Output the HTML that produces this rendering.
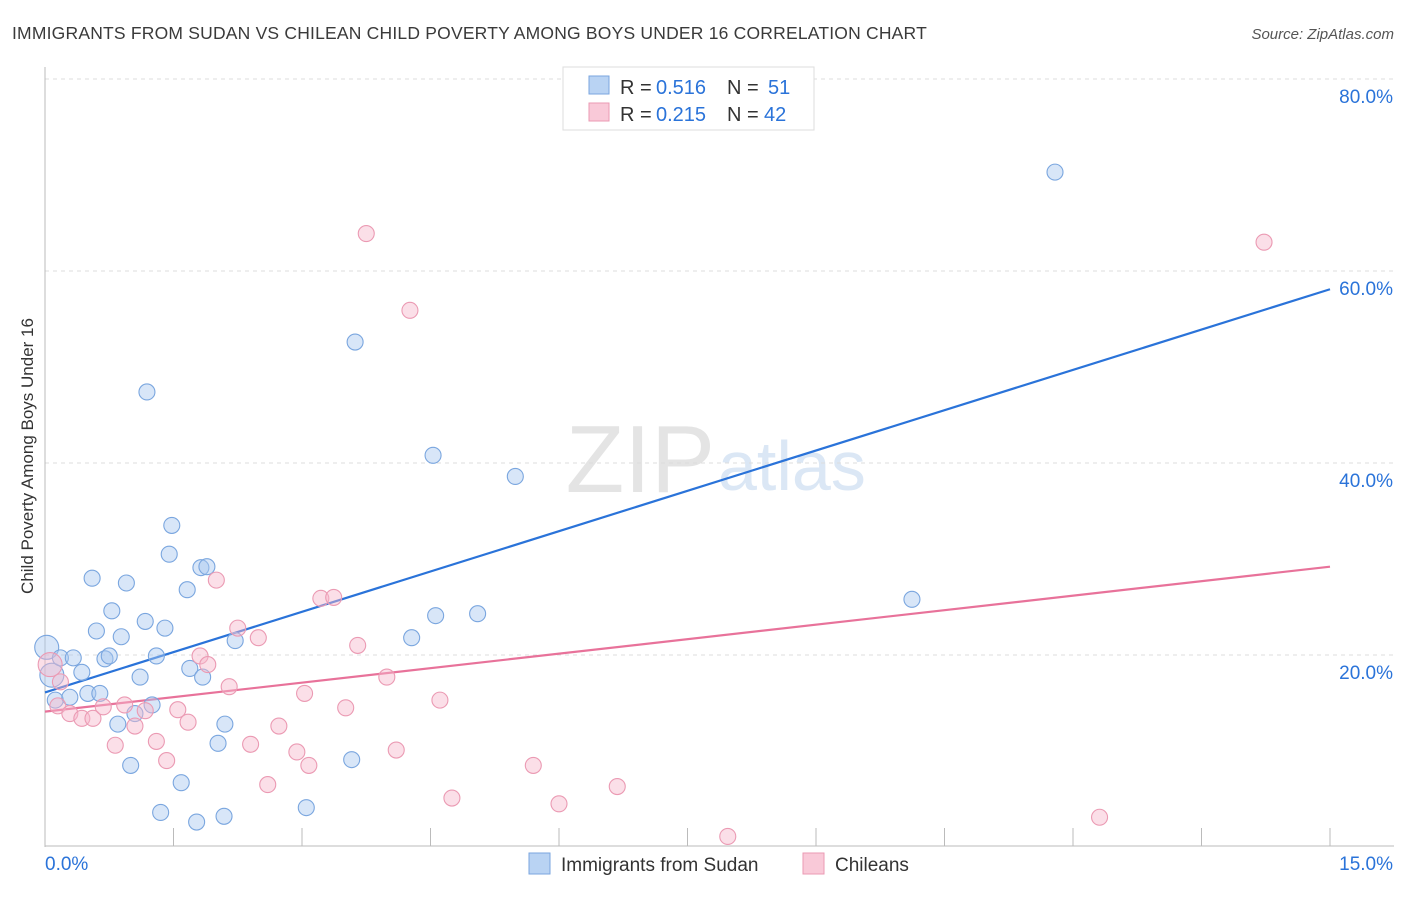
<!DOCTYPE html>
<html><head><meta charset="utf-8">
<style>
body{margin:0;background:#fff;font-family:"Liberation Sans",sans-serif;}
svg text{font-family:"Liberation Sans",sans-serif;}
</style></head>
<body>
<svg id="chart" width="1406" height="892" xmlns="http://www.w3.org/2000/svg">
<text x="12" y="39" font-size="17.5" fill="#3a3a3a" letter-spacing="0.2">IMMIGRANTS FROM SUDAN VS CHILEAN CHILD POVERTY AMONG BOYS UNDER 16 CORRELATION CHART</text>
<text x="1394" y="39" font-size="15" fill="#555" text-anchor="end" font-style="italic">Source: ZipAtlas.com</text>
<text transform="translate(33,456) rotate(-90)" font-size="17" fill="#333" text-anchor="middle">Child Poverty Among Boys Under 16</text>
<text x="715" y="492" font-size="96" fill="#e4e4e4" text-anchor="end" font-family="Liberation Serif">ZIP</text>
<text x="718" y="490" font-size="70" fill="#dbe7f5">atlas</text>
<g id="grid"></g>
<g id="lines"></g>
<g id="points"></g>
<g>
<rect x="563" y="67" width="251" height="63" fill="#fff" stroke="#ddd"/>
<rect x="589" y="76" width="20" height="18" fill="#b9d3f3" stroke="#7aa6df"/>
<text x="620" y="94" font-size="20" fill="#333">R = </text>
<text x="656" y="94" font-size="20" fill="#2a73d9">0.516</text>
<text x="727" y="94" font-size="20" fill="#333">N = </text>
<text x="768" y="94" font-size="20" fill="#2a73d9">51</text>
<rect x="589" y="103" width="20" height="18" fill="#f9c9d8" stroke="#eb9ab3"/>
<text x="620" y="121" font-size="20" fill="#333">R = </text>
<text x="656" y="121" font-size="20" fill="#2a73d9">0.215</text>
<text x="727" y="121" font-size="20" fill="#333">N = </text>
<text x="764" y="121" font-size="20" fill="#2a73d9">42</text>
</g>
<g>
<rect x="529" y="853" width="21" height="21" fill="#b9d3f3" stroke="#7aa6df"/>
<text x="561" y="871" font-size="19" fill="#333">Immigrants from Sudan</text>
<rect x="803" y="853" width="21" height="21" fill="#f9c9d8" stroke="#eb9ab3"/>
<text x="835" y="871" font-size="19" fill="#333">Chileans</text>
</g>
</svg>
<script>
const yTicks=[20,40,60,80];
const xTickCount=10;
const xMin=0,xMax=15,yMin=0,yMax=80;
const sudanX=[0.02,0.08,0.18,0.33,0.43,0.12,0.29,0.50,0.64,0.55,0.60,0.78,0.89,0.95,0.70,0.75,1.11,1.17,1.30,1.40,1.25,1.05,0.85,1.00,1.19,1.48,1.45,1.66,1.82,1.89,1.69,1.84,2.22,2.10,2.02,1.59,1.35,1.77,2.09,3.05,3.58,3.62,4.53,5.49,4.28,4.56,5.05,10.12,11.79];
const sudanY=[20.8,17.9,19.7,19.7,18.2,15.3,15.6,16.0,16.0,28.0,22.5,24.6,21.9,27.5,19.6,19.9,17.7,23.5,19.9,22.8,14.8,13.9,12.8,8.5,47.4,33.5,30.5,26.8,29.1,29.2,18.6,17.7,21.5,12.8,10.8,6.7,3.6,2.6,3.2,4.1,9.1,52.6,40.8,38.6,21.8,24.1,24.3,25.8,70.3];
const chileX=[0.06,0.18,0.15,0.29,0.43,0.56,0.68,0.82,0.93,1.05,1.17,1.30,1.42,1.55,1.67,1.81,1.90,2.00,2.15,2.25,2.49,2.40,2.60,2.73,2.94,3.03,3.08,3.22,3.37,3.51,3.65,3.75,3.99,4.10,4.26,4.61,4.75,5.70,6.00,6.68,7.97,12.31,14.23];
const chileY=[19.0,17.2,14.7,13.9,13.4,13.4,14.6,10.6,14.8,12.6,14.2,11.0,9.0,14.3,13.0,19.9,19.0,27.8,16.7,22.8,21.8,10.7,6.5,12.6,9.9,16.0,8.5,25.9,26.0,14.5,21.0,63.9,17.7,10.1,55.9,15.3,5.1,8.5,4.5,6.3,1.1,3.1,63.0];
const sudanTrend=[16.1,58.1];
const chileTrend=[14.1,29.2];
const NS="http://www.w3.org/2000/svg";
const X0=45,X1=1330,Y0=847,Y1=79;
function sx(v){return X0+(v-xMin)/(xMax-xMin)*(X1-X0);}
function sy(v){return Y0-(v-yMin)/(yMax-yMin)*(Y0-Y1);}
function mk(tag,attrs,parent){const e=document.createElementNS(NS,tag);for(const k in attrs)e.setAttribute(k,attrs[k]);parent.appendChild(e);return e;}
const grid=document.getElementById('grid');
yTicks.forEach(t=>{
 const l=mk('line',{x1:45,x2:1394,y1:sy(t),y2:sy(t),stroke:'#ddd','stroke-dasharray':'4,4'},grid);
 
 
 const tx=mk('text',{x:1393,y:sy(t)+24,'font-size':19,fill:'#2a73d9','text-anchor':'end'},grid);
 tx.textContent=t.toFixed(1)+'%';
 
 
});
const ax=mk('line',{x1:45,x2:45,y1:67,y2:847,stroke:'#bbb'},grid);


const bx=mk('line',{x1:45,x2:1394,y1:846,y2:846,stroke:'#bbb'},grid);


for(let i=0;i<=xTickCount;i++){
 const v=xMin+i*(xMax-xMin)/xTickCount;
 const t=mk('line',{x1:sx(v),x2:sx(v),y1:828,y2:846,stroke:'#bbb'},grid);
 
 
}
const xl=mk('text',{x:45,y:870,'font-size':19,fill:'#2a73d9'},grid);
xl.textContent=xMin.toFixed(1)+'%';


const xr=mk('text',{x:1393,y:870,'font-size':19,fill:'#2a73d9','text-anchor':'end'},grid);
xr.textContent=xMax.toFixed(1)+'%';


const pts=document.getElementById('points');
function drawPts(xs,ys,fill,stroke,name){
 xs.forEach((x,i)=>{
  const c=mk('circle',{cx:sx(x),cy:sy(ys[i]),r:(x<0.1?12:8),fill:fill,'fill-opacity':0.45,stroke:stroke,'stroke-width':1.1},pts);
  
  
 });
}
drawPts(sudanX,sudanY,'#a9c8f0','#7aa6df','sudan-point');
drawPts(chileX,chileY,'#f6b8cb','#eb9ab3','chilean-point');
const lines=document.getElementById('lines');
const l1=mk('line',{x1:sx(xMin),y1:sy(sudanTrend[0]),x2:sx(xMax),y2:sy(sudanTrend[1]),stroke:'#2a73d9','stroke-width':2.2},lines);


const l2=mk('line',{x1:sx(xMin),y1:sy(chileTrend[0]),x2:sx(xMax),y2:sy(chileTrend[1]),stroke:'#e8729a','stroke-width':2.2},lines);


</script>
</body></html>
